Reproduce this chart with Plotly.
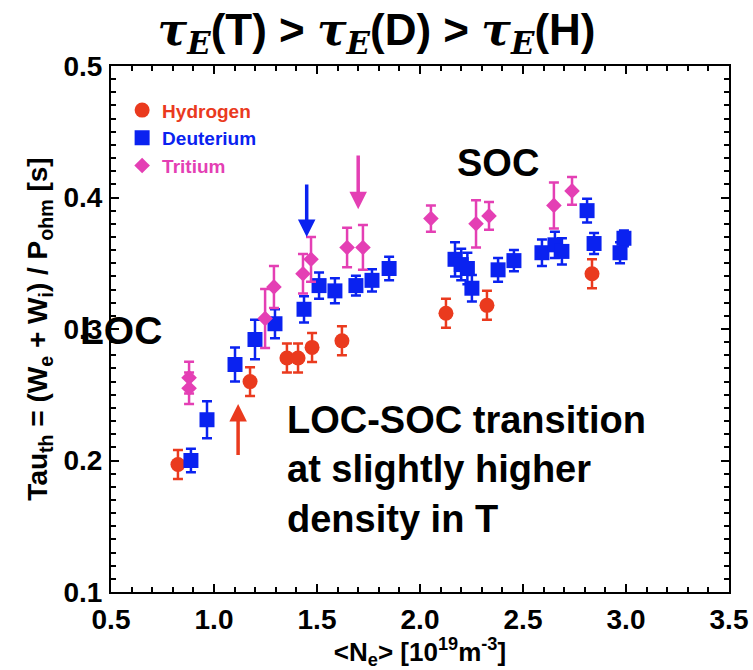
import plotly.graph_objects as go

# ---------------- data ----------------
h_x = [0.825, 1.175, 1.354, 1.408, 1.476, 1.621, 2.126, 2.325, 2.835]
h_y = [0.197, 0.260, 0.278, 0.278, 0.286, 0.291, 0.312, 0.318, 0.342]
h_err = [0.011, 0.011, 0.011, 0.011, 0.011, 0.011, 0.011, 0.011, 0.011]

d_x = [0.888, 0.966, 1.102, 1.199, 1.296, 1.437, 1.510, 1.587, 1.689, 1.767, 1.850,
       2.170, 2.200, 2.230, 2.252, 2.379, 2.456, 2.592, 2.655, 2.689, 2.811, 2.845, 2.971, 2.990]
d_y = [0.200, 0.231, 0.273, 0.292, 0.304, 0.315, 0.333, 0.329, 0.333, 0.337, 0.346,
       0.353, 0.349, 0.346, 0.331, 0.345, 0.352, 0.358, 0.364, 0.359, 0.390, 0.365, 0.358, 0.369]
d_err = [0.009, 0.014, 0.013, 0.015, 0.011, 0.010, 0.010, 0.0095, 0.0075, 0.0085, 0.009,
         0.013, 0.012, 0.012, 0.010, 0.009, 0.008, 0.010, 0.010, 0.010, 0.009, 0.008, 0.008, 0.006]

t_x = [0.879, 0.879, 1.248, 1.291, 1.432, 1.471, 1.646, 1.723, 2.053, 2.272, 2.335, 2.650, 2.738]
t_y = [0.263, 0.255, 0.308, 0.332, 0.342, 0.353, 0.362, 0.362, 0.384, 0.380, 0.386, 0.394, 0.405]
t_err = [0.012, 0.012, 0.0225, 0.016, 0.015, 0.017, 0.015, 0.017, 0.010, 0.018, 0.0105, 0.0175, 0.0105]

# arrows: (x, y_tail, y_tip, series)
arrow_x = [1.45, 1.70, 1.117]
arrow_tail = [0.411, 0.433, 0.203]
arrow_tip = [0.370, 0.391, 0.243]
arrow_series = ["D", "T", "H"]

x_ticks = [0.5, 1.0, 1.5, 2.0, 2.5, 3.0, 3.5]
y_ticks = [0.1, 0.2, 0.3, 0.4, 0.5]

H_COLOR = "#EA3A1E"
D_COLOR = "#0A22F0"
T_COLOR = "#E43FB4"
COLORS = {"H": H_COLOR, "D": D_COLOR, "T": T_COLOR}
FONT = "Arial, Liberation Sans, sans-serif"

fig = go.Figure()

def add_series(x, y, err, color, symbol, size, name):
    fig.add_trace(go.Scatter(
        x=x, y=y, mode="markers",
        name=f'<span style="color:{color}">{name}</span>',
        marker=dict(symbol=symbol, size=size, color=color, line=dict(width=0)),
        error_y=dict(type="data", array=err, color=color, thickness=2.5, width=5),
        cliponaxis=False,
    ))

add_series(h_x, h_y, h_err, H_COLOR, "circle", 15, "Hydrogen")
add_series(d_x, d_y, d_err, D_COLOR, "square", 15, "Deuterium")
add_series(t_x, t_y, t_err, T_COLOR, "diamond", 12, "Tritium")

annotations = []
for ax_, yt, ytip, s in zip(arrow_x, arrow_tail, arrow_tip, arrow_series):
    annotations.append(dict(
        x=ax_, y=ytip, ax=ax_, ay=yt, xref="x", yref="y", axref="x", ayref="y",
        text="", showarrow=True, arrowhead=2, arrowsize=1, arrowwidth=3.5,
        arrowcolor=COLORS[s], standoff=0, startstandoff=0,
    ))

annotations += [
    dict(x=2.38, y=0.426, xref="x", yref="y", text="<b>SOC</b>", showarrow=False,
         font=dict(family=FONT, size=38, color="black"), xanchor="center", yanchor="middle"),
    dict(x=0.016, y=0.299, xref="paper", yref="y", text="<b>LOC</b>", showarrow=False,
         font=dict(family=FONT, size=39, color="black"), xanchor="center", yanchor="middle"),
    dict(x=1.345, y=0.193, xref="x", yref="y",
         text="<b>LOC-SOC transition<br>at slightly higher<br>density in T</b>",
         showarrow=False, align="left",
         font=dict(family=FONT, size=38, color="black"), xanchor="left", yanchor="middle"),
]

axis_common = dict(
    showgrid=False, zeroline=False, showline=True, linewidth=2, linecolor="black",
    mirror="ticks", ticks="inside", ticklen=8, tickwidth=2, tickcolor="black",
    tickfont=dict(family=FONT, size=28, color="black", weight="bold"),
    automargin=False,
)

TAU = '<i><span style="font-family:DejaVu Serif">τ</span></i>'
SUBE = '<sub><i><span style="font-family:DejaVu Serif">E</span></i></sub>'

fig.update_layout(
    width=753, height=670,
    margin=dict(l=111, r=24, t=66, b=78),
    paper_bgcolor="white", plot_bgcolor="white",
    title=dict(
        text=f"<b>{TAU}{SUBE}(T) &gt; {TAU}{SUBE}(D) &gt; {TAU}{SUBE}(H)</b>",
        x=0.5, xref="container", xanchor="center", y=0.956, yref="container", yanchor="middle",
        font=dict(family=FONT, size=44, color="black"),
    ),
    xaxis=dict(
        range=[0.5, 3.5], tickvals=x_ticks, ticktext=[f"{v:.1f}" for v in x_ticks],
        minor=dict(dtick=0.1, ticks="inside", ticklen=5, tickwidth=1.5, tickcolor="black"),
        ticklabelstandoff=1,
        title=dict(text="<b>&lt;N<sub>e</sub>&gt; [10<sup>19</sup>m<sup>-3</sup>]</b>",
                   font=dict(family=FONT, size=26, color="black"), standoff=8),
        **axis_common,
    ),
    yaxis=dict(
        range=[0.1, 0.5], tickvals=y_ticks, ticktext=[f"{v:.1f}" for v in y_ticks],
        minor=dict(dtick=0.01, ticks="inside", ticklen=5, tickwidth=1.5, tickcolor="black"),
        ticklabelstandoff=1,
        title=dict(text="<b>Tau<sub>th</sub> = (W<sub>e</sub> + W<sub>i</sub>) / P<sub>ohm</sub> [s]</b>",
                   font=dict(family=FONT, size=28, color="black"), standoff=8),
        **axis_common,
    ),
    legend=dict(
        x=0.018, y=0.952, xanchor="left", yanchor="top",
        bgcolor="rgba(0,0,0,0)", borderwidth=0,
        font=dict(family=FONT, size=19, weight="bold"),
        itemwidth=30, tracegroupgap=0,
    ),
    showlegend=True,
    annotations=annotations,
)

fig.write_html("out.html")
